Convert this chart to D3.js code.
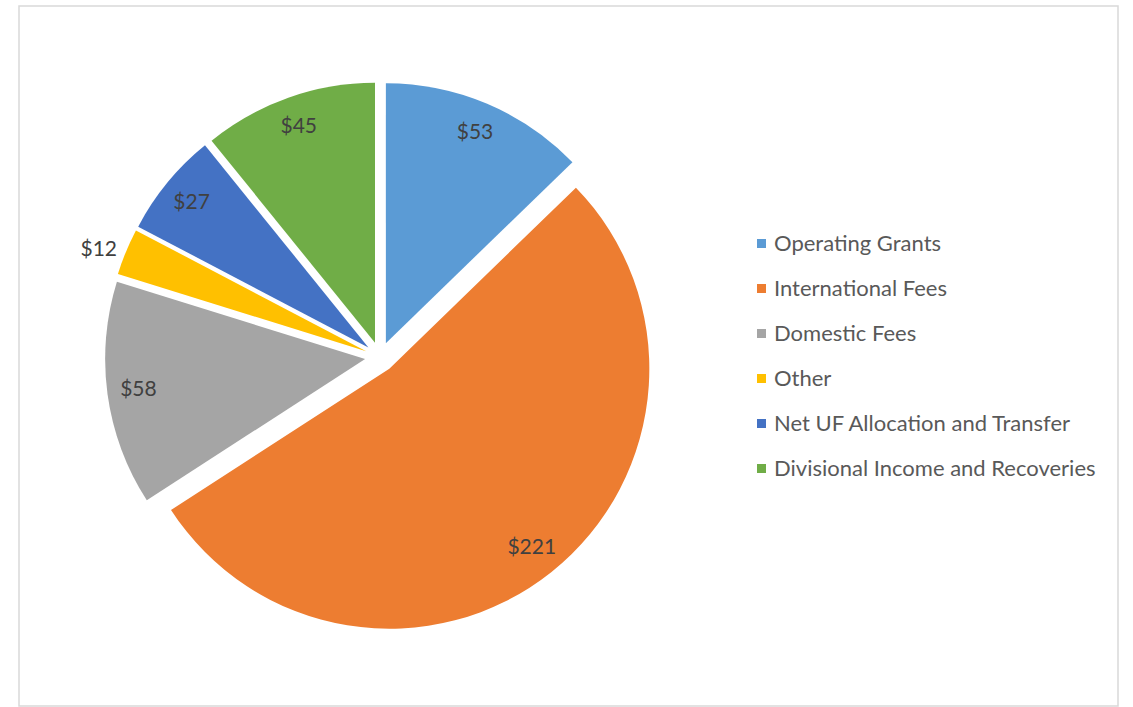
<!DOCTYPE html>
<meta charset="utf-8">
<style>
  body { margin: 0; background: #fff; }
  text { font-family: Lato, "Open Sans", sans-serif; }
</style>
<script src="https://d3js.org/d3.v7.min.js"></script>
<div id="chart"></div>
<script>
var categories = ["Operating Grants", "International Fees", "Domestic Fees", "Other",
                  "Net UF Allocation and Transfer", "Divisional Income and Recoveries"];
var values = [53, 221, 58, 12, 27, 45];
var colors = ["#5B9BD5", "#ED7D31", "#A5A5A5", "#FFC000", "#4472C4", "#70AD47"];

var width = 1133, height = 707;
var cx = 380, cy = 357, radius = 260, explode = 15;

var svg = d3.select("#chart").append("svg")
    .attr("width", width)
    .attr("height", height);

// chart frame
svg.append("rect")
    .attr("x", 19).attr("y", 6)
    .attr("width", 1099).attr("height", 700)
    .attr("fill", "#fff")
    .attr("stroke", "#d9d9d9")
    .attr("stroke-width", 1.5);

var data = categories.map(function(c, i) { return {name: c, value: values[i], color: colors[i]}; });
var total = d3.sum(values);

var pie = d3.pie().sort(null).value(function(d) { return d.value; });
var arc = d3.arc().innerRadius(0).outerRadius(radius);

var g = svg.append("g").attr("transform", "translate(" + cx + "," + cy + ")");

var slices = g.selectAll("g.slice")
  .data(pie(data))
  .enter().append("g")
    .attr("class", "slice")
    .attr("transform", function(d) {
      var a = (d.startAngle + d.endAngle) / 2;
      return "translate(" + (Math.sin(a) * explode) + "," + (-Math.cos(a) * explode) + ")";
    });

slices.append("path")
    .attr("d", arc)
    .attr("fill", function(d) { return d.data.color; });

// small slices get their label just outside the rim
function labelPos(d) {
  var a = (d.startAngle + d.endAngle) / 2;
  var small = d.value / total < 0.05;
  var f = small ? 1.1 : 0.88;
  if (small) a -= 0.03;
  return [Math.sin(a) * radius * f, -Math.cos(a) * radius * f];
}

slices.append("text")
    .attr("text-anchor", "middle")
    .attr("dy", "0.3em")
    .attr("x", function(d) { return labelPos(d)[0]; })
    .attr("y", function(d) { return labelPos(d)[1]; })
    .style("font-size", "21px")
    .style("fill", "#404040")
    .text(function(d) { return "$" + d.value; });

// legend
var legend = svg.append("g").attr("transform", "translate(757,243)");
var item = legend.selectAll("g")
  .data(data)
  .enter().append("g")
    .attr("transform", function(d, i) { return "translate(0," + (i * 45) + ")"; });

item.append("rect")
    .attr("x", 0).attr("y", -4)
    .attr("width", 9).attr("height", 9)
    .attr("fill", function(d) { return d.color; });

item.append("text")
    .attr("x", 17)
    .attr("dy", "0.35em")
    .style("font-size", "22px")
    .style("fill", "#595959")
    .text(function(d) { return d.name; });
</script>
